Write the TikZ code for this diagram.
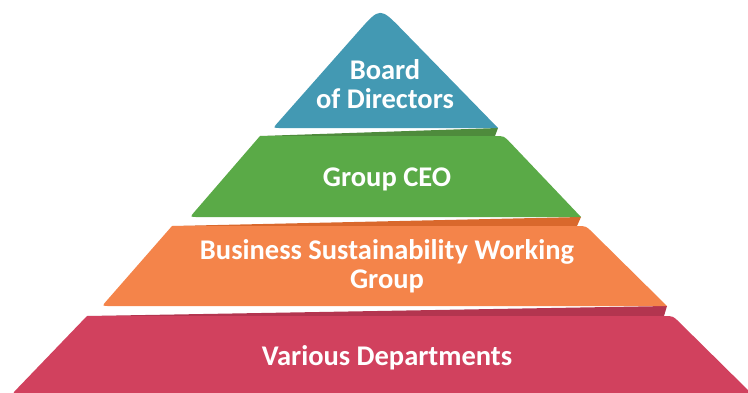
\documentclass[tikz,border=0pt]{standalone}
\usepackage{fontspec}
\setmainfont{Carlito}
\usetikzlibrary{calc}

\definecolor{tierBlue}{RGB}{67,153,179}
\definecolor{tierGreen}{RGB}{90,170,71}
\definecolor{tierGreenDark}{RGB}{78,139,60}
\definecolor{tierOrange}{RGB}{244,132,74}
\definecolor{tierOrangeDark}{RGB}{217,104,44}
\definecolor{tierRed}{RGB}{209,65,94}
\definecolor{tierRedDark}{RGB}{179,53,79}

\begin{document}
\begin{tikzpicture}[x=1pt,y=-1pt,
  tierText/.style={text=white,font=\bfseries\fontsize{28.5}{29.5}\selectfont,align=center,inner sep=0pt}]
\useasboundingbox (0,0) rectangle (748,392);
\clip (0,0) rectangle (748,392);

% corner points of the four tiers
\coordinate (bA) at (380,7);
\coordinate (bL) at (273,128);
\coordinate (bR) at (498,128);

\coordinate (gTL) at (260,136);
\coordinate (gTR) at (504,136);
\coordinate (gBR) at (581,217);
\coordinate (gBL) at (190,217);

\coordinate (oTL) at (172,226);
\coordinate (oTR) at (586,226);
\coordinate (oBR) at (667,306);
\coordinate (oBL) at (102,306);

\coordinate (rTL) at (87,316);
\coordinate (rTR) at (673,316);
\coordinate (rBR) at (752,394);
\coordinate (rBL) at (12,394);

% folded strips between tiers
\fill[tierGreenDark] (gTL) -- (bR) -- (495,136) -- cycle;
\fill[tierOrangeDark] (oTL) -- (gBR) -- (577,226) -- cycle;
\fill[tierRedDark] (rTL) -- (oBR) -- (664,316) -- cycle;

% top tier
\fill[tierBlue] (bR) -- ($(bA)!32pt!(bR)$) .. controls (bA) .. ($(bA)!32pt!(bL)$)
  -- ($(bL)!7pt!(bA)$) .. controls (bL) .. ($(bL)!7pt!(bR)$) -- cycle;

% second tier
\fill[tierGreen] (gTL) -- ($(gTR)!9pt!(gTL)$) .. controls (gTR) .. ($(gTR)!9pt!(gBR)$)
  -- (gBR) -- ($(gBL)!7pt!(gBR)$) .. controls (gBL) .. ($(gBL)!7pt!(gTL)$) -- cycle;

% third tier
\fill[tierOrange] (oTL) -- ($(oTR)!9pt!(oTL)$) .. controls (oTR) .. ($(oTR)!9pt!(oBR)$)
  -- (oBR) -- ($(oBL)!7pt!(oBR)$) .. controls (oBL) .. ($(oBL)!7pt!(oTL)$) -- cycle;

% bottom tier
\fill[tierRed] (rTL) -- ($(rTR)!9pt!(rTL)$) .. controls (rTR) .. ($(rTR)!9pt!(rBR)$)
  -- (rBR) -- ($(rBL)!7pt!(rBR)$) .. controls (rBL) .. ($(rBL)!7pt!(rTL)$) -- cycle;

% tier labels
\node[tierText] (board) at (385,84) {Board\\of Directors};
\node[tierText] (ceo) at (387,179) {Group CEO};
\node[tierText] (bswg) at (387,266) {Business Sustainability Working\\Group};
\node[tierText] (dept) at (387,358) {Various Departments};
\end{tikzpicture}
\end{document}
